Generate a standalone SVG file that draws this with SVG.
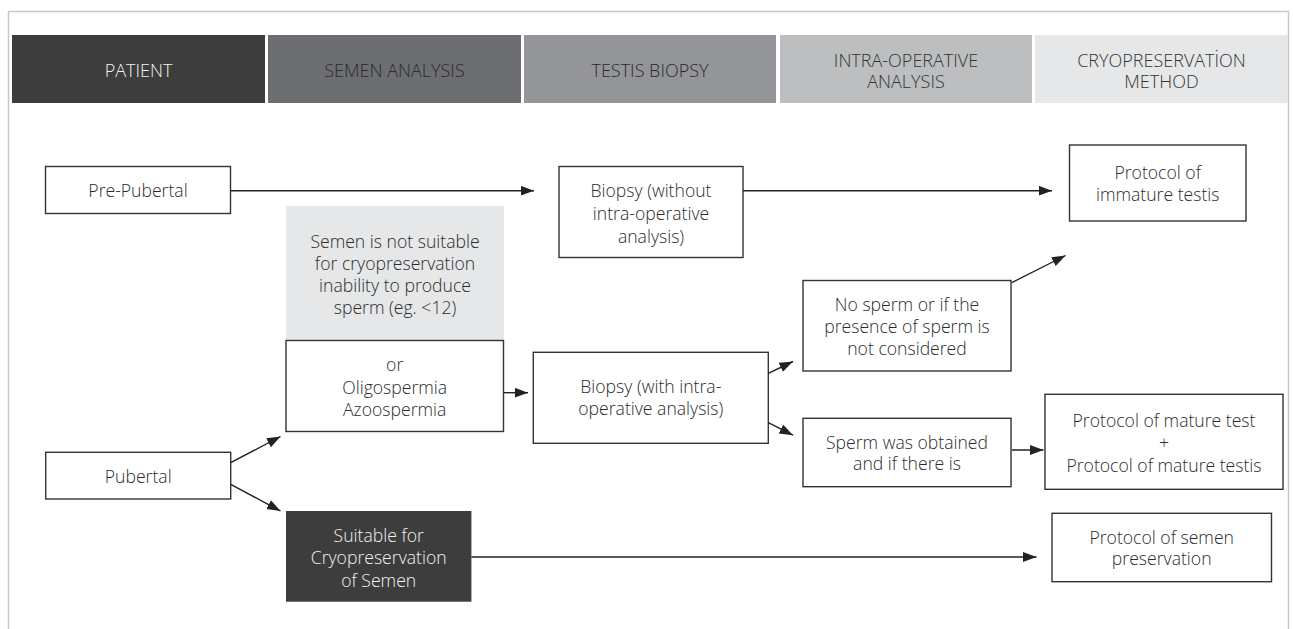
<svg xmlns="http://www.w3.org/2000/svg" width="1293" height="629" viewBox="0 0 1293 629">
<style>
  text { font-family: "Open Sans", "Liberation Sans", sans-serif; font-size: 17.6px; fill: #2b2b2b; text-anchor: middle; font-weight: 300; }
  .hd { font-size: 18px; }
  .box { fill: #fff; stroke: #333; stroke-width: 1.4; }
  .con line { stroke: #222; stroke-width: 1.4; marker-end: url(#ah); }
</style>
<defs>
  <marker id="ah" markerUnits="userSpaceOnUse" markerWidth="15" markerHeight="11" refX="13.5" refY="5" orient="auto">
    <path d="M0,0 L13.5,5 L0,10 z" fill="#222"/>
  </marker>
</defs>
<rect x="0" y="0" width="1293" height="629" fill="#fff"/>
<rect x="8.5" y="11.5" width="1280" height="640" fill="none" stroke="#c8c8c8" stroke-width="1.5"/>

<g id="h-patient"><rect x="12" y="35" width="253" height="68" fill="#3d3d3d"/><text class="hd" x="138.5" y="77" style="fill:#f2f2f2">PATIENT</text></g>
<g id="h-semen"><rect x="268" y="35" width="253" height="68" fill="#6d6e71"/><text class="hd" x="394.5" y="77" style="fill:#2a2a2a">SEMEN ANALYSIS</text></g>
<g id="h-biopsy"><rect x="524" y="35" width="252" height="68" fill="#939598"/><text class="hd" x="650" y="77" style="fill:#2a2a2a">TESTIS BIOPSY</text></g>
<g id="h-intra"><rect x="780" y="35" width="252" height="68" fill="#bcbec0"/><text class="hd" x="906" y="66.5" style="fill:#333">INTRA-OPERATIVE</text><text class="hd" x="906" y="88" style="fill:#333">ANALYSIS</text></g>
<g id="h-cryo"><rect x="1035" y="35" width="253" height="68" fill="#e6e7e8"/><text class="hd" x="1161.5" y="66.5" style="fill:#333">CRYOPRESERVATİON</text><text class="hd" x="1161.5" y="88" style="fill:#333">METHOD</text></g>

<g id="prepubertal"><rect class="box" x="45.5" y="166.5" width="185" height="47"/><text x="138" y="196.7">Pre-Pubertal</text></g>
<g id="biopsy-without"><rect class="box" x="559" y="166.5" width="184" height="91"/><text x="651" y="197">Biopsy (without</text><text x="651" y="220">intra-operative</text><text x="651" y="243">analysis)</text></g>
<g id="immature"><rect class="box" x="1069.5" y="145" width="176.5" height="76"/><text x="1157.7" y="179.3">Protocol of</text><text x="1157.7" y="201">immature testis</text></g>
<g id="not-suitable"><rect x="286" y="206" width="218" height="134.5" fill="#e6e7e8"/><text x="395" y="247.7">Semen is not suitable</text><text x="395" y="269.7">for cryopreservation</text><text x="395" y="291.7">inability to produce</text><text x="395" y="314">sperm (eg. &lt;12)</text></g>
<g id="oligo"><rect class="box" x="286" y="340.5" width="217.5" height="91"/><text x="394.7" y="371">or</text><text x="394.7" y="393.5">Oligospermia</text><text x="394.7" y="415.5">Azoospermia</text></g>
<g id="biopsy-with"><rect class="box" x="533.3" y="352.3" width="235" height="91"/><text x="650.8" y="393.3">Biopsy (with intra-</text><text x="650.8" y="415.3">operative analysis)</text></g>
<g id="no-sperm"><rect class="box" x="803" y="280.5" width="208" height="90.5"/><text x="907" y="311">No sperm or if the</text><text x="907" y="333">presence of sperm is</text><text x="907" y="355.3">not considered</text></g>
<g id="sperm-obtained"><rect class="box" x="803" y="418.3" width="208" height="68.4"/><text x="907" y="448.5">Sperm was obtained</text><text x="907" y="470.3">and if there is</text></g>
<g id="mature"><rect class="box" x="1045" y="394.3" width="238" height="95"/><text x="1164" y="427">Protocol of mature test</text><text x="1164" y="449.3">+</text><text x="1164" y="472">Protocol of mature testis</text></g>
<g id="pubertal"><rect class="box" x="45.7" y="452.3" width="185" height="46.7"/><text x="138.2" y="482.7">Pubertal</text></g>
<g id="suitable"><rect x="286" y="511" width="185.4" height="90.7" fill="#3d3d3d"/><text x="378.7" y="541.7" style="fill:#f2f2f2">Suitable for</text><text x="378.7" y="564.3" style="fill:#f2f2f2">Cryopreservation</text><text x="378.7" y="587" style="fill:#f2f2f2">of Semen</text></g>
<g id="semen-preservation"><rect class="box" x="1052" y="513.3" width="219.5" height="68.4"/><text x="1161.7" y="543.7">Protocol of semen</text><text x="1161.7" y="565.3">preservation</text></g>

<g id="connectors" class="con">
  <line x1="230.7" y1="190.7" x2="534" y2="190.7"/>
  <line x1="743" y1="190.7" x2="1052" y2="190.7"/>
  <line x1="503.3" y1="392.7" x2="528" y2="392.7"/>
  <line x1="768.3" y1="373.3" x2="793" y2="361.5"/>
  <line x1="768.3" y1="422.7" x2="793" y2="435.2"/>
  <line x1="1011.7" y1="282.7" x2="1065.5" y2="255.5"/>
  <line x1="1011.7" y1="450" x2="1043.5" y2="450"/>
  <line x1="230.7" y1="462.7" x2="280.5" y2="436.5"/>
  <line x1="230.7" y1="484.3" x2="280.5" y2="511"/>
  <line x1="471.4" y1="557" x2="1036.5" y2="557"/>
</g>
</svg>
